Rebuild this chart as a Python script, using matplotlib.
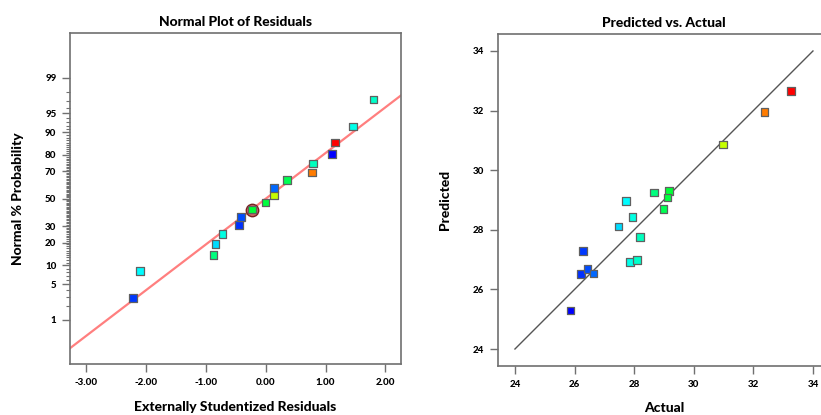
import numpy as np
import matplotlib
matplotlib.use('Agg')
import matplotlib.pyplot as plt
from matplotlib.colors import LinearSegmentedColormap, Normalize
from statistics import NormalDist

plt.rcParams['font.family'] = ['Lato', 'DejaVu Sans']
plt.rcParams['font.weight'] = 'black'

# one entry per run
actual = [33.27, 32.37, 30.99, 28.66, 29.17, 29.12, 28.98, 27.72, 27.94,
          27.48, 28.19, 27.87, 28.10, 26.28, 26.22, 26.44, 26.64, 25.87]
predicted = [32.65, 31.95, 30.86, 29.25, 29.30, 29.09, 28.69, 28.97, 28.42,
             28.11, 27.75, 26.91, 26.98, 27.28, 26.52, 26.68, 26.53, 25.29]
ext_resid = [1.16, 0.77, 0.136, -0.87, -0.23, 0.00, 0.36, -2.10, -0.72,
             -0.84, 0.79, 1.46, 1.80, -2.21, -0.44, -0.41, 0.141, 1.11]
normal_pct = [86.1, 69.4, 52.8, 13.9, 41.7, 47.2, 63.9, 8.3, 25.0,
              19.4, 75.0, 91.7, 97.2, 2.8, 30.6, 36.1, 58.3, 80.6]
highlighted = 4  # run with the circle marker

prob_ticks = [1, 5, 10, 20, 30, 50, 70, 80, 90, 95, 99]
resid_ticks = [-3, -2, -1, 0, 1, 2]
pva_ticks = [24, 26, 28, 30, 32, 34]
fit_slope = 0.879  # slope of the red reference line (z per residual unit)

nd = NormalDist()
_fwd = np.vectorize(lambda v: nd.inv_cdf(min(max(v / 100.0, 1e-12), 1 - 1e-12)), otypes=[float])
_inv = np.vectorize(lambda z: nd.cdf(z) * 100.0, otypes=[float])

def fwd(p):
    return _fwd(np.asarray(p, dtype=float))

def inv(z):
    return _inv(np.asarray(z, dtype=float))

cmap = LinearSegmentedColormap.from_list('de', ['#0000ff', '#00ffff', '#00ff00', '#ffff00', '#ff0000'])
norm = Normalize(vmin=min(actual), vmax=max(actual))
colors = cmap(norm(actual))

fig = plt.figure(figsize=(8.21, 4.15), dpi=100)
ax1 = fig.add_axes([0.0856, 0.1222, 0.4024, 0.7976])
ax2 = fig.add_axes([0.6069, 0.1188, 0.4040, 0.7993])

spine_col = '#707070'
for ax in (ax1, ax2):
    for s in ax.spines.values():
        s.set_color(spine_col)
        s.set_linewidth(1.2)
    ax.tick_params(direction='out', length=6, width=1, color=spine_col,
                   labelsize=7, pad=4)

# ---- normal plot of residuals
ax1.set_yscale('function', functions=(fwd, inv))
ax1.set_xlim(-3.262, 2.254)
ax1.set_ylim(inv(-3.18), inv(3.18))
xl = np.array(ax1.get_xlim())
ax1.plot(xl, inv(fit_slope * xl), color='#ff7f7f', lw=1.6, zorder=1)
ax1.scatter([ext_resid[highlighted]], [normal_pct[highlighted]], s=80, marker='o',
            facecolor='#c86464', edgecolor='#7a2020', linewidth=1, zorder=2)
ax1.scatter(ext_resid, normal_pct, s=30, marker='s', c=colors,
            edgecolor='#606060', linewidth=0.9, zorder=3)
ax1.set_xticks(resid_ticks)
ax1.set_xticklabels(['%.2f' % t for t in resid_ticks])
ax1.set_yticks(prob_ticks)
ax1.set_yticklabels([str(t) for t in prob_ticks])
ax1.set_yticks([p for p in range(2, 99) if p not in prob_ticks], minor=True)
ax1.tick_params(axis='y', which='minor', length=3, width=0.8, color=spine_col)
ax1.set_title('Normal Plot of Residuals', fontsize=10, fontweight='black', pad=5)
ax1.set_xlabel('Externally Studentized Residuals', fontsize=10, fontweight='black', labelpad=10)
ax1.set_ylabel('Normal % Probability', fontsize=10, fontweight='black', labelpad=15)

# ---- predicted vs actual
ax2.set_xlim(23.44, 34.57)
ax2.set_ylim(23.44, 34.57)
ax2.plot(pva_ticks[::len(pva_ticks) - 1], pva_ticks[::len(pva_ticks) - 1],
         color='#555555', lw=1, zorder=1)
ax2.scatter(actual, predicted, s=30, marker='s', c=colors,
            edgecolor='#606060', linewidth=0.9, zorder=3)
ax2.set_xticks(pva_ticks)
ax2.set_yticks(pva_ticks)
ax2.set_title('Predicted vs. Actual', fontsize=10, fontweight='black', pad=5)
ax2.set_xlabel('Actual', fontsize=10, fontweight='black', labelpad=10)
ax2.set_ylabel('Predicted', fontsize=10, fontweight='black', labelpad=16)

fig.savefig('out.png', dpi=100)
